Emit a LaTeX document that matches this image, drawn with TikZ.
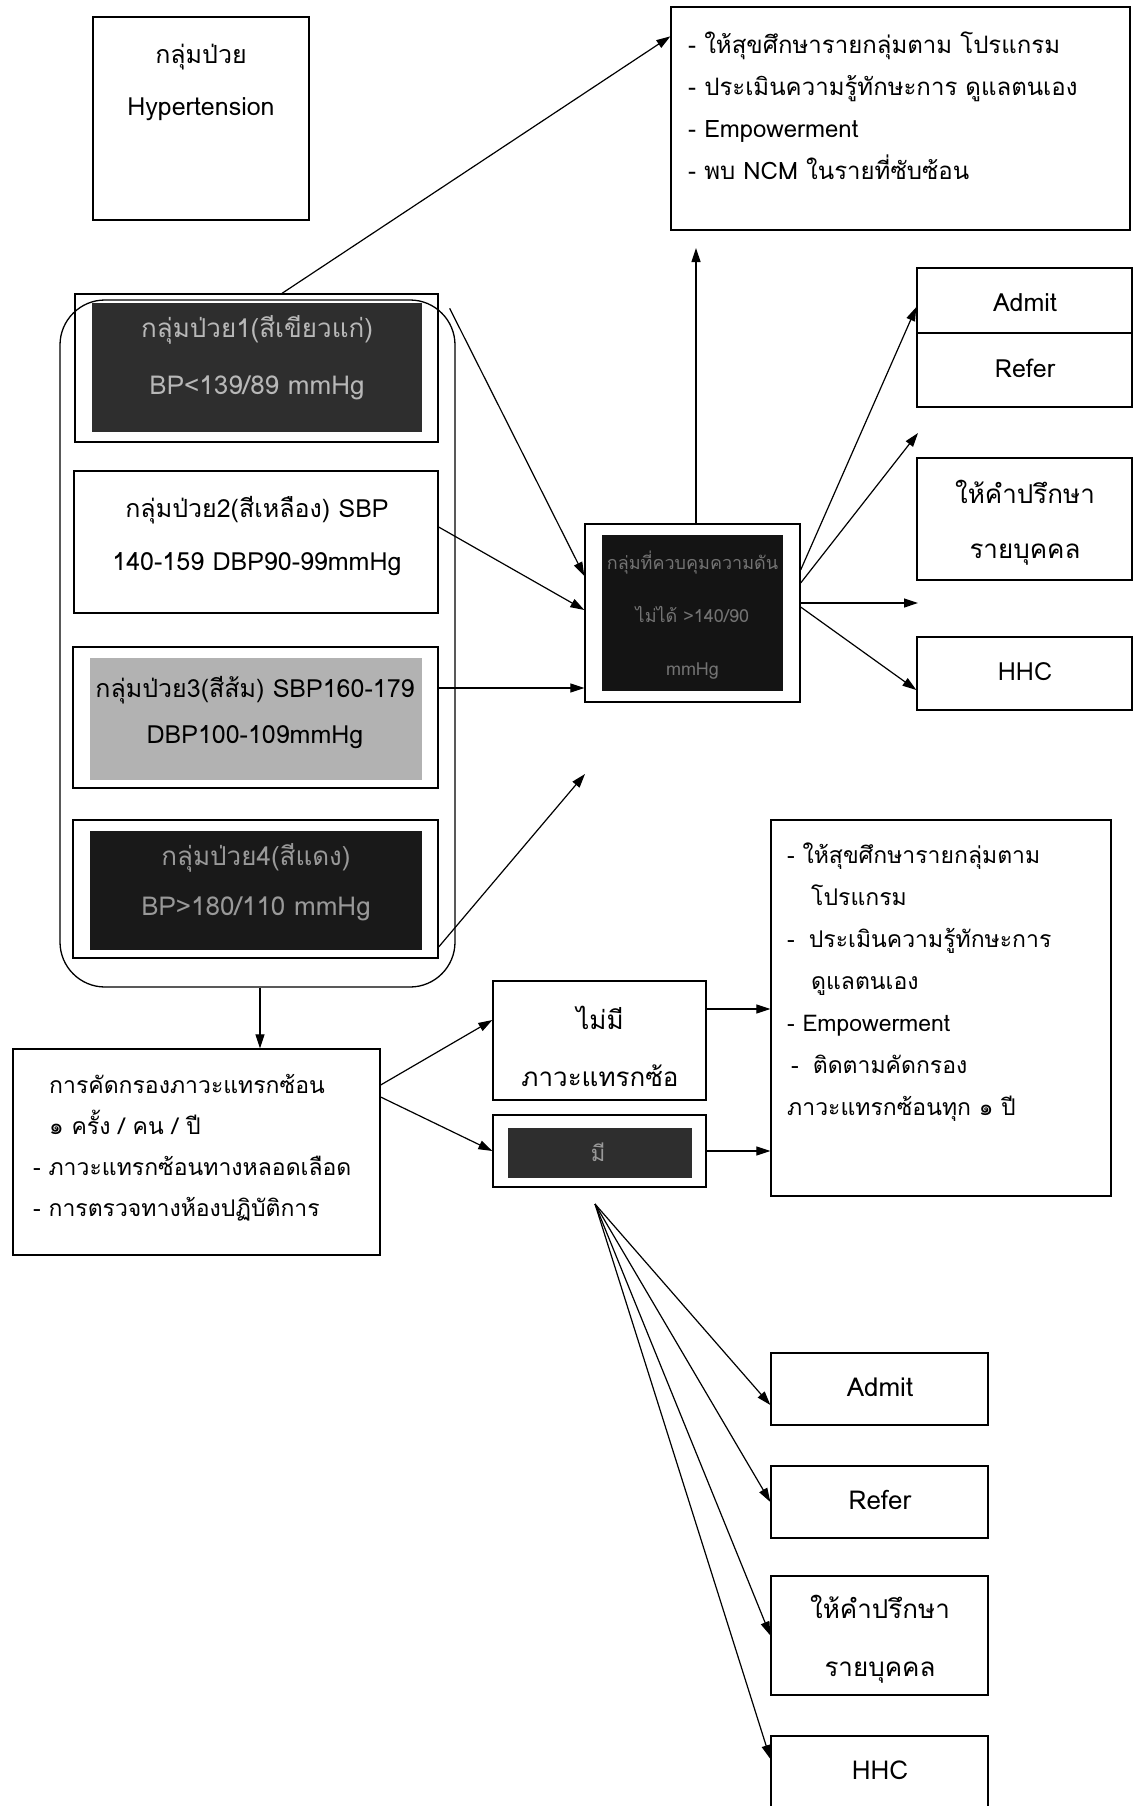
\documentclass[tikz,border=0pt]{standalone}
\usepackage{fontspec}
\setmainfont{Loma}[Script=Thai]
\usetikzlibrary{arrows.meta}

\newcommand\setfs[2]{\fontsize{#1}{#2}\selectfont}

\tikzset{
  frame/.style={draw, line width=1.3pt, inner sep=0pt},
  shade/.style={draw=none, inner sep=0pt},
  lbl/.style={align=center, inner sep=0pt},
  lblL/.style={align=left, inner sep=0pt, anchor=west},
  arr/.style={line width=1.2pt, -{Triangle[length=14pt,width=9pt]}},
}

\begin{document}
\begin{tikzpicture}[x=1pt,y=-1pt]
\useasboundingbox (0,0) rectangle (1146,1806);
\fill[white] (0,0) rectangle (1146,1806);

% patient group title
\node[frame, minimum width=216, minimum height=203] (ht) at (201,118.5) {};
\node[lbl, font=\setfs{25}{52}] (htT) at (201,82) {กลุ่มป่วย\\Hypertension};

% education box (top)
\node[frame, minimum width=459, minimum height=223] (edu1) at (900.5,118.5) {};
\node[lblL, font=\setfs{24}{42}] (edu1T) at (688,106) {- ให้สุขศึกษารายกลุ่มตาม โปรแกรม\\- ประเมินความรู้ทักษะการ ดูแลตนเอง\\- Empowerment\\- พบ NCM ในรายที่ซับซ้อน};

% container of the four groups
\node[frame, rounded corners=45pt, minimum width=395, minimum height=687] (grp) at (257.5,643.5) {};

% group 1
\node[frame, minimum width=363, minimum height=148] (g1) at (256.5,368) {};
\node[shade, fill=black!82, minimum width=330, minimum height=129] (g1s) at (257,367.5) {};
\node[lbl, text=white!72!black, font=\setfs{26}{57}] (g1T) at (257,358) {กลุ่มป่วย1(สีเขียวแก่)\\BP<139/89 mmHg};

% group 2
\node[frame, minimum width=364, minimum height=142] (g2) at (256,542) {};
\node[lbl, font=\setfs{25}{53}] (g2T) at (257,536) {กลุ่มป่วย2(สีเหลือง) SBP\\140-159 DBP90-99mmHg};

% group 3
\node[frame, minimum width=365, minimum height=141] (g3) at (255.5,717.5) {};
\node[shade, fill=black!30, minimum width=332, minimum height=122] (g3s) at (256,719) {};
\node[lbl, font=\setfs{25}{46}] (g3T) at (255,713) {กลุ่มป่วย3(สีส้ม) SBP160-179\\DBP100-109mmHg};

% group 4
\node[frame, minimum width=365, minimum height=138] (g4) at (255.5,889) {};
\node[shade, fill=black!90, minimum width=332, minimum height=119] (g4s) at (256,890.5) {};
\node[lbl, text=white!60!black, font=\setfs{26}{50}] (g4T) at (256,882) {กลุ่มป่วย4(สีแดง)\\BP>180/110 mmHg};

% uncontrolled group
\node[frame, minimum width=215, minimum height=178] (mid) at (692.5,613) {};
\node[shade, fill=black!92, minimum width=181, minimum height=156] (mids) at (692.5,613) {};
\node[lbl, text=white!45!black, font=\setfs{18}{53}] (midT) at (692.5,615) {กลุ่มที่ควบคุมความดัน\\ไม่ได้ >140/90\\mmHg};

% outcomes (right)
\node[frame, minimum width=215, minimum height=139] (ar) at (1024.5,337.5) {};
\draw[line width=1.3pt] (ar.west |- 0,333) -- (ar.east |- 0,333);
\node[lbl, font=\setfs{25}{30}] (arA) at (1025,303) {Admit};
\node[lbl, font=\setfs{25}{30}] (arR) at (1025,368) {Refer};

\node[frame, minimum width=215, minimum height=122] (cons1) at (1024.5,519) {};
\node[lbl, font=\setfs{26}{55}] (cons1T) at (1025,523) {ให้คำปรึกษา\\รายบุคคล};

\node[frame, minimum width=215, minimum height=73] (hhc1) at (1024.5,673.5) {};
\node[lbl, font=\setfs{25}{30}] (hhc1T) at (1025,672) {HHC};

% screening
\node[frame, minimum width=367, minimum height=206] (screen) at (196.5,1152) {};
\node[lblL, font=\setfs{23}{41}] (screenT) at (33,1147.5) {\hspace{16pt}การคัดกรองภาวะแทรกซ้อน\\\hspace{16pt}๑ ครั้ง / คน / ปี\\- ภาวะแทรกซ้อนทางหลอดเลือด\\- การตรวจทางห้องปฏิบัติการ};

% complication results
\node[frame, minimum width=213, minimum height=119] (nocomp) at (599.5,1040.5) {};
\node[lbl, font=\setfs{26}{57}] (nocompT) at (600,1046) {ไม่มี\\ภาวะแทรกซ้อ};

\node[frame, minimum width=213, minimum height=72] (comp) at (599.5,1151) {};
\node[shade, fill=black!82, minimum width=184, minimum height=50] (comps) at (600,1153) {};
\node[lbl, text=white!60!black, font=\setfs{22}{30}] (compT) at (598,1152) {มี};

% education box (bottom)
\node[frame, minimum width=340, minimum height=376] (edu2) at (941,1008) {};
\node[lblL, font=\setfs{23}{42}] (edu2T) at (787,982) {- ให้สุขศึกษารายกลุ่มตาม\\\hspace{24pt}โปรแกรม\\-\hspace{14pt}ประเมินความรู้ทักษะการ\\\hspace{24pt}ดูแลตนเอง\\- Empowerment\\\hspace{4pt}-\hspace{14pt}ติดตามคัดกรอง\\ภาวะแทรกซ้อนทุก ๑ ปี};

% outcomes (bottom)
\node[frame, minimum width=217, minimum height=72] (adm2) at (879.5,1389) {};
\node[lbl, font=\setfs{26}{30}] (adm2T) at (880,1387) {Admit};
\node[frame, minimum width=217, minimum height=72] (ref2) at (879.5,1502) {};
\node[lbl, font=\setfs{26}{30}] (ref2T) at (880,1500) {Refer};
\node[frame, minimum width=217, minimum height=119] (cons2) at (879.5,1635.5) {};
\node[lbl, font=\setfs{26}{58}] (cons2T) at (880,1639) {ให้คำปรึกษา\\รายบุคคล};
\node[frame, minimum width=217, minimum height=79] (hhc2) at (879.5,1775.5) {};
\node[lbl, font=\setfs{26}{30}] (hhc2T) at (880,1770) {HHC};

% free arrow ends
\coordinate (upTip) at (696,248);
\coordinate (g4tip) at (585,774);
\coordinate (r2tip) at (918,433);
\coordinate (r3tip) at (918,603);
\coordinate (fan) at (595,1204);

% connectors
\draw[arr] ([xshift=25.5]g1.north) -- ([yshift=-30]edu1.north west);
\draw[arr] ([xshift=11,yshift=-15]g1.north east) -- ([yshift=37]mid.west);
\draw[arr] ([yshift=15]g2.east) -- ([yshift=3]mid.west);
\draw[arr] ([yshift=29.5]g3.east) -- ([yshift=-75]mid.west);
\draw[arr] ([yshift=-58]g4.east) -- (g4tip);
\draw[arr] ([xshift=3.5]mid.north) -- (upTip);
\draw[arr] ([yshift=43]mid.east) -- ([yshift=30.5]ar.west);
\draw[arr] ([yshift=30]mid.east) -- (r2tip);
\draw[arr] ([yshift=10]mid.east) -- (r3tip);
\draw[arr] ([yshift=6]mid.east) -- ([yshift=-16.5]hhc1.west);
\draw[arr] ([xshift=2.5]grp.south) -- ([xshift=2.5]grp.south |- screen.north);
\draw[arr] ([yshift=67]screen.east) -- ([yshift=20.5]nocomp.west);
\draw[arr] ([yshift=55]screen.east) -- (comp.west);
\draw[arr] ([yshift=31.5]nocomp.east) -- ([yshift=31.5]edu2.west |- nocomp.east);
\draw[arr] (comp.east) -- (edu2.west |- comp.east);
\draw[arr] (fan) -- ([yshift=-16]adm2.west);
\draw[arr] (fan) -- (ref2.west);
\draw[arr] (fan) -- (cons2.west);
\draw[arr] (fan) -- ([yshift=16.5]hhc2.west);
\end{tikzpicture}
\end{document}
